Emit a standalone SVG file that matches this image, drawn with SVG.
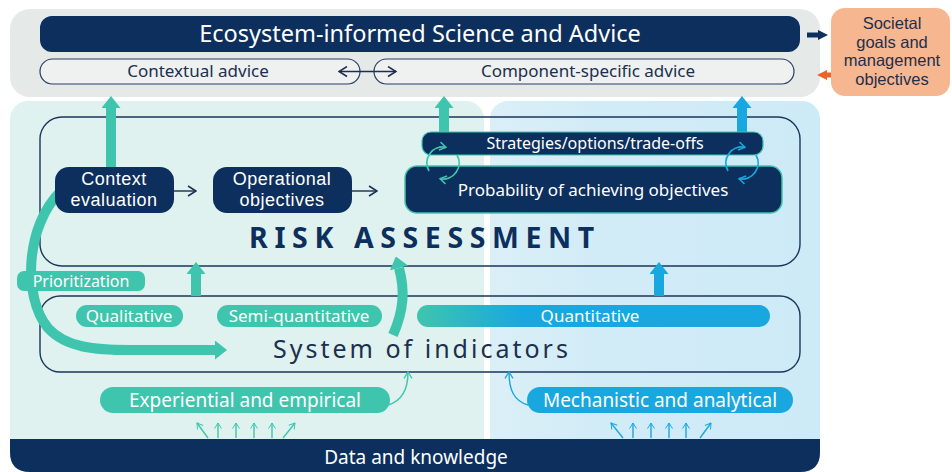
<svg xmlns="http://www.w3.org/2000/svg" width="952" height="472" viewBox="0 0 952 472">
<defs>
<style>
text{font-family:"Noto Sans","Liberation Sans",sans-serif;}
.lib{font-family:"Liberation Sans",Arial,sans-serif;}
.navy{fill:#0c2f5d;}
.wt{fill:#ffffff;text-anchor:middle;}
.dk{fill:#1b2f4e;text-anchor:middle;}
.teal{fill:#3fc5ad;}
.blue{fill:#19a7df;}
.outl{fill:none;stroke:#1d3659;stroke-width:1.4;}
.pill{fill:#eef1f0;stroke:#2a3f60;stroke-width:1.2;}
.thickT{fill:none;stroke:#3fc5ad;stroke-width:10;}
.thickB{fill:none;stroke:#19a7df;stroke-width:10;}
.thinT{fill:none;stroke:#3fc5ad;stroke-width:1.4;}
.thinB{fill:none;stroke:#19a7df;stroke-width:1.4;}
.thinN{fill:none;stroke:#1b2f4e;stroke-width:1.4;}
</style>
<marker id="hT" viewBox="0 0 12 19" refX="0" refY="9.5" markerWidth="12" markerHeight="19" markerUnits="userSpaceOnUse" orient="auto"><path d="M0,0 L12,9.5 L0,19 z" fill="#3fc5ad"/></marker>
<marker id="hB" viewBox="0 0 12 19" refX="0" refY="9.5" markerWidth="12" markerHeight="19" markerUnits="userSpaceOnUse" orient="auto"><path d="M0,0 L12,9.5 L0,19 z" fill="#19a7df"/></marker>
<marker id="cN" viewBox="0 0 10 12" refX="9" refY="6" markerWidth="10" markerHeight="12" markerUnits="userSpaceOnUse" orient="auto-start-reverse"><path d="M1,1 L9,6 L1,11" fill="none" stroke="#1b2f4e" stroke-width="1.5"/></marker>
<marker id="cT" viewBox="0 0 10 12" refX="9" refY="6" markerWidth="8" markerHeight="10" markerUnits="userSpaceOnUse" orient="auto"><path d="M1,1 L9,6 L1,11" fill="none" stroke="#3fc5ad" stroke-width="1.6"/></marker>
<marker id="cB" viewBox="0 0 10 12" refX="9" refY="6" markerWidth="8" markerHeight="10" markerUnits="userSpaceOnUse" orient="auto"><path d="M1,1 L9,6 L1,11" fill="none" stroke="#19a7df" stroke-width="1.6"/></marker>
<marker id="cT2" viewBox="0 0 10 12" refX="9" refY="6" markerWidth="7" markerHeight="9" markerUnits="userSpaceOnUse" orient="auto"><path d="M1,1 L9,6 L1,11" fill="none" stroke="#3fc5ad" stroke-width="1.4"/></marker>
<marker id="cB2" viewBox="0 0 10 12" refX="9" refY="6" markerWidth="7" markerHeight="9" markerUnits="userSpaceOnUse" orient="auto"><path d="M1,1 L9,6 L1,11" fill="none" stroke="#19a7df" stroke-width="1.4"/></marker>
<marker id="cT3" viewBox="0 0 10 12" refX="9" refY="6" markerWidth="8" markerHeight="10" markerUnits="userSpaceOnUse" orient="auto"><path d="M1,1 L9,6 L1,11" fill="none" stroke="#3fc5ad" stroke-width="1.8"/></marker>
<marker id="cB3" viewBox="0 0 10 12" refX="9" refY="6" markerWidth="8" markerHeight="10" markerUnits="userSpaceOnUse" orient="auto"><path d="M1,1 L9,6 L1,11" fill="none" stroke="#19a7df" stroke-width="1.8"/></marker>
<marker id="sN" viewBox="0 0 10 10" refX="0" refY="5" markerWidth="10" markerHeight="10" markerUnits="userSpaceOnUse" orient="auto"><path d="M0,0 L10,5 L0,10 z" fill="#0c2f5d"/></marker>
<marker id="sO" viewBox="0 0 10 10" refX="0" refY="5" markerWidth="10" markerHeight="10" markerUnits="userSpaceOnUse" orient="auto"><path d="M0,0 L10,5 L0,10 z" fill="#e8652b"/></marker>
<linearGradient id="qg" x1="0" y1="0" x2="1" y2="0"><stop offset="0" stop-color="#3fc5ad"/><stop offset="0.3" stop-color="#19a7df"/><stop offset="1" stop-color="#19a7df"/></linearGradient>
<linearGradient id="bg2" x1="0" y1="0" x2="1" y2="0"><stop offset="0" stop-color="#dbeff7"/><stop offset="0.3" stop-color="#d2ecf7"/><stop offset="1" stop-color="#cdeaf7"/></linearGradient>
</defs>

<!-- backgrounds -->
<rect x="10" y="101" width="474" height="371" rx="18" fill="#dff2ef"/>
<rect x="490" y="101" width="330" height="371" rx="18" fill="url(#bg2)"/>
<rect x="10" y="9" width="810" height="88" rx="20" fill="#e5e9e8"/>

<g id="data-knowledge">
<path d="M10,439 H820 V452 Q820,472 800,472 H30 Q10,472 10,452 Z" class="navy"/>
<text x="416" y="464" class="wt" font-size="19">Data and knowledge</text>
</g>

<g id="risk-assessment">
<rect x="40" y="117" width="760" height="149" rx="22" class="outl"/>
<text x="425" y="248" font-size="28.5" font-weight="bold" letter-spacing="6.6" fill="#0c2f5d" text-anchor="middle">RISK ASSESSMENT</text>
</g>

<g id="system-of-indicators">
<rect x="40" y="296" width="760" height="76" rx="20" class="outl"/>
<text x="422" y="358" font-size="25" letter-spacing="3" fill="#1b2f4e" text-anchor="middle">System of indicators</text>
</g>

<g id="title">
<rect x="40" y="16" width="760" height="36" rx="12" class="navy"/>
<text x="420" y="42" class="wt" font-size="23.5">Ecosystem-informed Science and Advice</text>
</g>
<g id="contextual-advice">
<rect x="40" y="59" width="320" height="25" rx="12.5" class="pill"/>
<text x="198" y="77" class="dk" font-size="17">Contextual advice</text>
</g>
<g id="component-advice">
<rect x="374" y="59" width="420" height="25" rx="12.5" class="pill"/>
<text x="588" y="77" class="dk" font-size="17">Component-specific advice</text>
</g>
<g id="societal-goals">
<rect x="831" y="8" width="119" height="88" rx="14" fill="#f6b690"/>
<text class="dk lib" font-size="16.5"><tspan x="892" y="29">Societal</tspan><tspan x="892" y="47.5">goals and</tspan><tspan x="892" y="66">management</tspan><tspan x="892" y="84.5">objectives</tspan></text>
</g>

<!-- connectors -->
<g id="connectors">
<line x1="339" y1="71.5" x2="396" y2="71.5" class="thinN" marker-start="url(#cN)" marker-end="url(#cN)"/>
<line x1="807" y1="35" x2="818" y2="35" stroke="#0c2f5d" stroke-width="5" marker-end="url(#sN)"/>
<line x1="831" y1="75" x2="827" y2="75" stroke="#e8652b" stroke-width="5" marker-end="url(#sO)"/>
<path d="M111,167 V108" class="thickT" marker-end="url(#hT)"/>
<path d="M444,132 V108" class="thickT" marker-end="url(#hT)"/>
<path d="M742,132 V108" class="thickB" marker-end="url(#hB)"/>
<path d="M196,296 V274" class="thickT" marker-end="url(#hT)"/>
<path d="M659,296 V274" class="thickB" marker-end="url(#hB)"/>
<path d="M60,192 C26,226 22,296 48,328 C66,348 96,350 130,350 L215,350" class="thickT" stroke-width="11" marker-end="url(#hT)"/>
<path d="M393,335 C404,310 405,290 399,268" class="thickT" marker-end="url(#hT)"/>
<line x1="174" y1="191" x2="196" y2="191" class="thinN" marker-end="url(#cN)"/>
<line x1="352" y1="191" x2="377" y2="191" class="thinN" marker-end="url(#cN)"/>
<path d="M388,405 C402,401 408,390 408,372" class="thinT" marker-end="url(#cT)"/>
<path d="M528,405 C514,401 509,390 509,372" class="thinB" marker-end="url(#cB)"/>
<g class="thinT">
<path d="M208,438 L197,423" marker-end="url(#cT2)"/>
<path d="M218,438 V423" marker-end="url(#cT2)"/>
<path d="M236,438 V423" marker-end="url(#cT2)"/>
<path d="M254,438 V423" marker-end="url(#cT2)"/>
<path d="M272,438 V423" marker-end="url(#cT2)"/>
<path d="M283,438 L295,423" marker-end="url(#cT2)"/>
</g>
<g class="thinB">
<path d="M623,438 L611,423" marker-end="url(#cB2)"/>
<path d="M633,438 V423" marker-end="url(#cB2)"/>
<path d="M651,438 V423" marker-end="url(#cB2)"/>
<path d="M669,438 V423" marker-end="url(#cB2)"/>
<path d="M686,438 V423" marker-end="url(#cB2)"/>
<path d="M700,438 L711,423" marker-end="url(#cB2)"/>
</g>
</g>

<g id="context-evaluation">
<rect x="55" y="167" width="119" height="46" rx="14" class="navy"/>
<text class="wt lib" font-size="18" letter-spacing="0.5"><tspan x="114" y="185">Context</tspan><tspan x="114" y="205.5">evaluation</tspan></text>
</g>
<g id="operational-objectives">
<rect x="213" y="167" width="139" height="46" rx="14" class="navy"/>
<text class="wt lib" font-size="18" letter-spacing="0.5"><tspan x="282" y="185">Operational</tspan><tspan x="282" y="205.5">objectives</tspan></text>
</g>
<g id="probability">
<rect x="405" y="166" width="377" height="47" rx="12" class="navy" stroke="#3fc5ad" stroke-width="1.5"/>
<text x="593" y="196" class="wt" font-size="17">Probability of achieving objectives</text>
</g>
<g id="strategies">
<rect x="422" y="132" width="341" height="23" rx="9" class="navy" stroke="#3fc5ad" stroke-width="1.2"/>
<text x="595" y="149" class="wt" font-size="16">Strategies/options/trade-offs</text>
</g>
<g id="cycle-left" fill="none" stroke="#3fc5ad" stroke-width="1.8">
<path d="M429,171 A16,16 0 0 1 446,147.3" marker-end="url(#cT3)"/>
<path d="M457,155 A16,16 0 0 1 440,178.7" marker-end="url(#cT3)"/>
</g>
<g id="cycle-right" fill="none" stroke="#19a7df" stroke-width="1.8">
<path d="M728,171 A16,16 0 0 1 745,147.3" marker-end="url(#cB3)"/>
<path d="M756,155 A16,16 0 0 1 739,178.7" marker-end="url(#cB3)"/>
</g>

<g id="prioritization">
<rect x="17" y="271" width="128" height="20" rx="7" class="teal"/>
<text x="81" y="287" class="wt" font-size="16">Prioritization</text>
</g>
<g id="qualitative">
<rect x="76" y="305" width="107" height="22" rx="11" class="teal"/>
<text x="129" y="322" class="wt" font-size="17">Qualitative</text>
</g>
<g id="semi-quantitative">
<rect x="217" y="305" width="165" height="22" rx="11" class="teal"/>
<text x="299" y="322" class="wt" font-size="17">Semi-quantitative</text>
</g>
<g id="quantitative">
<rect x="417" y="305" width="353" height="22" rx="11" fill="url(#qg)"/>
<text x="590" y="322" class="wt" font-size="17">Quantitative</text>
</g>
<g id="experiential">
<rect x="100" y="387" width="290" height="26" rx="13" class="teal"/>
<text x="245" y="407" class="wt" font-size="19">Experiential and empirical</text>
</g>
<g id="mechanistic">
<rect x="527" y="387" width="266" height="26" rx="13" class="blue"/>
<text x="660" y="407" class="wt" font-size="19">Mechanistic and analytical</text>
</g>
</svg>
